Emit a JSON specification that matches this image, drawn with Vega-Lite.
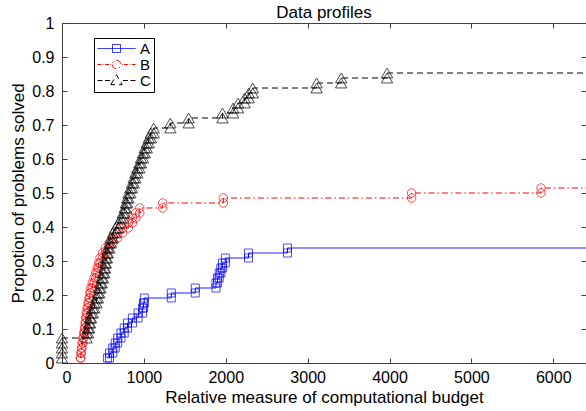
{
"$schema": "https://vega.github.io/schema/vega-lite/v6.json",
"width": 524, "height": 340,
"autosize": {"type": "none"},
"padding": {"left": 62, "top": 23, "right": 0, "bottom": 48},
"background": "white",
"title": {"text": "Data profiles", "fontSize": 17, "font": "Liberation Sans", "fontWeight": "normal", "color": "#000", "offset": -7},
"config": {"view": {"stroke": null},
  "axis": {"labelFont": "Liberation Sans", "titleFont": "Liberation Sans", "labelFontSize": 16, "titleFontSize": 17, "titleFontWeight": "normal", "labelColor": "#000", "titleColor": "#000", "domainColor": "#404040", "tickColor": "#404040", "grid": false}},
"data": {"values": [
{"s":"A","x":555,"y":0.0147},
{"s":"A","x":580,"y":0.0147},{"s":"A","x":580,"y":0.0294},
{"s":"A","x":620,"y":0.0294},{"s":"A","x":620,"y":0.0441},
{"s":"A","x":650,"y":0.0441},{"s":"A","x":650,"y":0.0588},
{"s":"A","x":680,"y":0.0588},{"s":"A","x":680,"y":0.0735},
{"s":"A","x":720,"y":0.0735},{"s":"A","x":720,"y":0.0882},
{"s":"A","x":760,"y":0.0882},{"s":"A","x":760,"y":0.1029},
{"s":"A","x":800,"y":0.1029},{"s":"A","x":800,"y":0.1176},
{"s":"A","x":860,"y":0.1176},{"s":"A","x":860,"y":0.1324},
{"s":"A","x":930,"y":0.1324},{"s":"A","x":930,"y":0.1471},
{"s":"A","x":985,"y":0.1471},{"s":"A","x":985,"y":0.1618},
{"s":"A","x":995,"y":0.1618},{"s":"A","x":995,"y":0.1765},
{"s":"A","x":1005,"y":0.1765},{"s":"A","x":1005,"y":0.1912},
{"s":"A","x":1335,"y":0.1912},{"s":"A","x":1335,"y":0.2059},
{"s":"A","x":1628,"y":0.2059},{"s":"A","x":1628,"y":0.2206},
{"s":"A","x":1880,"y":0.2206},{"s":"A","x":1880,"y":0.2353},
{"s":"A","x":1900,"y":0.2353},{"s":"A","x":1900,"y":0.25},
{"s":"A","x":1920,"y":0.25},{"s":"A","x":1920,"y":0.2647},
{"s":"A","x":1940,"y":0.2647},{"s":"A","x":1940,"y":0.2794},
{"s":"A","x":1960,"y":0.2794},{"s":"A","x":1960,"y":0.2941},
{"s":"A","x":1995,"y":0.2941},{"s":"A","x":1995,"y":0.3088},
{"s":"A","x":2278,"y":0.3088},{"s":"A","x":2278,"y":0.3235},
{"s":"A","x":2754,"y":0.3235},{"s":"A","x":2754,"y":0.3382},
{"s":"A","x":6400,"y":0.3382},
{"s":"B","x":225,"y":0.0147},
{"s":"B","x":230,"y":0.0147},{"s":"B","x":230,"y":0.0294},
{"s":"B","x":238,"y":0.0294},{"s":"B","x":238,"y":0.0441},
{"s":"B","x":245,"y":0.0441},{"s":"B","x":245,"y":0.0588},
{"s":"B","x":255,"y":0.0588},{"s":"B","x":255,"y":0.0735},
{"s":"B","x":265,"y":0.0735},{"s":"B","x":265,"y":0.0882},
{"s":"B","x":275,"y":0.0882},{"s":"B","x":275,"y":0.1029},
{"s":"B","x":283,"y":0.1029},{"s":"B","x":283,"y":0.1176},
{"s":"B","x":290,"y":0.1176},{"s":"B","x":290,"y":0.1324},
{"s":"B","x":298,"y":0.1324},{"s":"B","x":298,"y":0.1471},
{"s":"B","x":306,"y":0.1471},{"s":"B","x":306,"y":0.1618},
{"s":"B","x":318,"y":0.1618},{"s":"B","x":318,"y":0.1765},
{"s":"B","x":330,"y":0.1765},{"s":"B","x":330,"y":0.1912},
{"s":"B","x":340,"y":0.1912},{"s":"B","x":340,"y":0.2059},
{"s":"B","x":352,"y":0.2059},{"s":"B","x":352,"y":0.2206},
{"s":"B","x":370,"y":0.2206},{"s":"B","x":370,"y":0.2353},
{"s":"B","x":390,"y":0.2353},{"s":"B","x":390,"y":0.25},
{"s":"B","x":412,"y":0.25},{"s":"B","x":412,"y":0.2647},
{"s":"B","x":430,"y":0.2647},{"s":"B","x":430,"y":0.2794},
{"s":"B","x":448,"y":0.2794},{"s":"B","x":448,"y":0.2941},
{"s":"B","x":465,"y":0.2941},{"s":"B","x":465,"y":0.3088},
{"s":"B","x":495,"y":0.3088},{"s":"B","x":495,"y":0.3235},
{"s":"B","x":530,"y":0.3235},{"s":"B","x":530,"y":0.3382},
{"s":"B","x":575,"y":0.3382},{"s":"B","x":575,"y":0.3529},
{"s":"B","x":620,"y":0.3529},{"s":"B","x":620,"y":0.3676},
{"s":"B","x":680,"y":0.3676},{"s":"B","x":680,"y":0.3824},
{"s":"B","x":740,"y":0.3824},{"s":"B","x":740,"y":0.3971},
{"s":"B","x":810,"y":0.3971},{"s":"B","x":810,"y":0.4118},
{"s":"B","x":860,"y":0.4118},{"s":"B","x":860,"y":0.4265},
{"s":"B","x":900,"y":0.4265},{"s":"B","x":900,"y":0.4412},
{"s":"B","x":950,"y":0.4412},{"s":"B","x":950,"y":0.4559},
{"s":"B","x":1230,"y":0.4559},{"s":"B","x":1230,"y":0.4706},
{"s":"B","x":1970,"y":0.4706},{"s":"B","x":1970,"y":0.4853},
{"s":"B","x":4270,"y":0.4853},{"s":"B","x":4270,"y":0.5},
{"s":"B","x":5850,"y":0.5},{"s":"B","x":5850,"y":0.5147},
{"s":"B","x":6400,"y":0.5147},
{"s":"C","x":0,"y":0.0147},{"s":"C","x":0,"y":0.0294},{"s":"C","x":0,"y":0.0441},{"s":"C","x":0,"y":0.0588},{"s":"C","x":0,"y":0.0735},
{"s":"C","x":300,"y":0.0735},{"s":"C","x":300,"y":0.0882},
{"s":"C","x":318,"y":0.0882},{"s":"C","x":318,"y":0.1029},
{"s":"C","x":330,"y":0.1029},{"s":"C","x":330,"y":0.1176},
{"s":"C","x":342,"y":0.1176},{"s":"C","x":342,"y":0.1324},
{"s":"C","x":355,"y":0.1324},{"s":"C","x":355,"y":0.1471},
{"s":"C","x":375,"y":0.1471},{"s":"C","x":375,"y":0.1618},
{"s":"C","x":395,"y":0.1618},{"s":"C","x":395,"y":0.1765},
{"s":"C","x":420,"y":0.1765},{"s":"C","x":420,"y":0.1912},
{"s":"C","x":440,"y":0.1912},{"s":"C","x":440,"y":0.2059},
{"s":"C","x":455,"y":0.2059},{"s":"C","x":455,"y":0.2206},
{"s":"C","x":470,"y":0.2206},{"s":"C","x":470,"y":0.2353},
{"s":"C","x":485,"y":0.2353},{"s":"C","x":485,"y":0.25},
{"s":"C","x":500,"y":0.25},{"s":"C","x":500,"y":0.2647},
{"s":"C","x":515,"y":0.2647},{"s":"C","x":515,"y":0.2794},
{"s":"C","x":525,"y":0.2794},{"s":"C","x":525,"y":0.2941},
{"s":"C","x":535,"y":0.2941},{"s":"C","x":535,"y":0.3088},
{"s":"C","x":548,"y":0.3088},{"s":"C","x":548,"y":0.3235},
{"s":"C","x":560,"y":0.3235},{"s":"C","x":560,"y":0.3382},
{"s":"C","x":578,"y":0.3382},{"s":"C","x":578,"y":0.3529},
{"s":"C","x":598,"y":0.3529},{"s":"C","x":598,"y":0.3676},
{"s":"C","x":620,"y":0.3676},{"s":"C","x":620,"y":0.3824},
{"s":"C","x":650,"y":0.3824},{"s":"C","x":650,"y":0.3971},
{"s":"C","x":690,"y":0.3971},{"s":"C","x":690,"y":0.4118},
{"s":"C","x":720,"y":0.4118},{"s":"C","x":720,"y":0.4265},
{"s":"C","x":745,"y":0.4265},{"s":"C","x":745,"y":0.4412},
{"s":"C","x":765,"y":0.4412},{"s":"C","x":765,"y":0.4559},
{"s":"C","x":780,"y":0.4559},{"s":"C","x":780,"y":0.4706},
{"s":"C","x":795,"y":0.4706},{"s":"C","x":795,"y":0.4853},
{"s":"C","x":812,"y":0.4853},{"s":"C","x":812,"y":0.5},
{"s":"C","x":835,"y":0.5},{"s":"C","x":835,"y":0.5147},
{"s":"C","x":855,"y":0.5147},{"s":"C","x":855,"y":0.5294},
{"s":"C","x":875,"y":0.5294},{"s":"C","x":875,"y":0.5441},
{"s":"C","x":895,"y":0.5441},{"s":"C","x":895,"y":0.5588},
{"s":"C","x":920,"y":0.5588},{"s":"C","x":920,"y":0.5735},
{"s":"C","x":945,"y":0.5735},{"s":"C","x":945,"y":0.5882},
{"s":"C","x":965,"y":0.5882},{"s":"C","x":965,"y":0.6029},
{"s":"C","x":990,"y":0.6029},{"s":"C","x":990,"y":0.6176},
{"s":"C","x":1010,"y":0.6176},{"s":"C","x":1010,"y":0.6324},
{"s":"C","x":1035,"y":0.6324},{"s":"C","x":1035,"y":0.6471},
{"s":"C","x":1060,"y":0.6471},{"s":"C","x":1060,"y":0.6618},
{"s":"C","x":1085,"y":0.6618},{"s":"C","x":1085,"y":0.6765},
{"s":"C","x":1120,"y":0.6765},{"s":"C","x":1120,"y":0.6912},
{"s":"C","x":1323,"y":0.6912},{"s":"C","x":1323,"y":0.7059},
{"s":"C","x":1547,"y":0.7059},{"s":"C","x":1547,"y":0.7206},
{"s":"C","x":1960,"y":0.7206},{"s":"C","x":1960,"y":0.7353},
{"s":"C","x":2090,"y":0.7353},{"s":"C","x":2090,"y":0.75},
{"s":"C","x":2150,"y":0.75},{"s":"C","x":2150,"y":0.7647},
{"s":"C","x":2230,"y":0.7647},{"s":"C","x":2230,"y":0.7794},
{"s":"C","x":2280,"y":0.7794},{"s":"C","x":2280,"y":0.7941},
{"s":"C","x":2330,"y":0.7941},{"s":"C","x":2330,"y":0.8088},
{"s":"C","x":3110,"y":0.8088},{"s":"C","x":3110,"y":0.8235},
{"s":"C","x":3410,"y":0.8235},{"s":"C","x":3410,"y":0.8382},
{"s":"C","x":3970,"y":0.8382},{"s":"C","x":3970,"y":0.8529},
{"s":"C","x":6400,"y":0.8529}
]},
"layer": [
 {"mark": {"type": "line", "strokeWidth": 1, "clip": true},
  "encoding": {
   "x": {"field": "x", "type": "quantitative", "scale": {"domain": [0, 6400], "nice": false, "zero": false},
     "axis": {"orient": "bottom", "values": [0,1000,2000,3000,4000,5000,6000], "format": "d", "title": "Relative measure of computational budget", "tickSize": -5, "labelPadding": 11, "titlePadding": 4}},
   "y": {"field": "y", "type": "quantitative", "scale": {"domain": [0, 1], "nice": false},
     "axis": {"orient": "left", "values": [0,0.1,0.2,0.3,0.4,0.5,0.6,0.7,0.8,0.9,1], "format": "~g", "title": "Propotion of problems solved", "tickSize": -5, "labelPadding": 13, "titlePadding": 4}},
   "color": {"field": "s", "type": "nominal", "scale": {"domain": ["A","B","C"], "range": ["#0000ff","#ff0000","#000000"]},
     "legend": {"title": null, "orient": "none", "legendX": 32, "legendY": 15, "strokeColor": "#000", "padding": 3, "fillColor": "white",
       "labelFont": "Liberation Sans", "labelFontSize": 15, "labelColor": "#000", "symbolSize": 1444, "symbolStrokeWidth": 1, "symbolFillColor": "transparent", "rowPadding": 0, "labelOffset": 4, "clipHeight": 15,
       "encode": {"symbols": {"update": {"fill": {"value": "transparent"}, "stroke": {"scale": "color", "field": "value"}, "strokeDash": {"value": [1, 0]}, "shape": {"signal": "datum.value === 'A' ? 'M-1,0H1M-0.21,-0.21H0.21V0.21H-0.21Z' : datum.value === 'B' ? 'M-1,0H-0.8M-0.72,0H-0.68M-0.6,0H-0.4M-0.32,0H-0.28M-0.22,0A0.22,0.22,0,1,0,0.22,0A0.22,0.22,0,1,0,-0.22,0M0.28,0H0.32M0.4,0H0.6M0.68,0H0.72M0.8,0H1' : 'M-1,0H-0.74M-0.6,0H-0.34M-0.3,0.22L0,-0.3L0.3,0.22ZM0.34,0H0.6M0.74,0H1'"}}}}}},
   "strokeDash": {"field": "s", "type": "nominal", "scale": {"domain": ["A","B","C"], "range": [[1,0],[6,3,1.5,3],[6,4]]}, "legend": null},
   "order": {"value": null}
  }},
 {"transform": [{"filter": "datum.s === 'A' && datum.x < 6400"}],
  "mark": {"type": "point", "shape": "square", "filled": false, "strokeWidth": 1, "size": 64},
  "encoding": {
   "x": {"field": "x", "type": "quantitative", "axis": {"orient": "top", "labels": false, "title": null, "values": [0,1000,2000,3000,4000,5000,6000], "tickSize": -5}},
   "y": {"field": "y", "type": "quantitative", "axis": {"orient": "right", "labels": false, "title": null, "values": [0,0.1,0.2,0.3,0.4,0.5,0.6,0.7,0.8,0.9,1], "tickSize": -5}},
   "color": {"field": "s", "type": "nominal"}
  }},
 {"transform": [{"filter": "datum.s === 'B' && datum.x < 6400"}],
  "mark": {"type": "point", "shape": "circle", "filled": false, "strokeWidth": 1, "size": 72},
  "encoding": {
   "x": {"field": "x", "type": "quantitative", "axis": null},
   "y": {"field": "y", "type": "quantitative", "axis": null},
   "color": {"field": "s", "type": "nominal"}
  }},
 {"transform": [{"filter": "datum.s === 'C' && datum.x < 6400"}],
  "mark": {"type": "point", "shape": "triangle-up", "filled": false, "strokeWidth": 1, "size": 130},
  "encoding": {
   "x": {"field": "x", "type": "quantitative", "axis": null},
   "y": {"field": "y", "type": "quantitative", "axis": null},
   "color": {"field": "s", "type": "nominal"}
  }}
],
"resolve": {"axis": {"x": "independent", "y": "independent"}}
}
